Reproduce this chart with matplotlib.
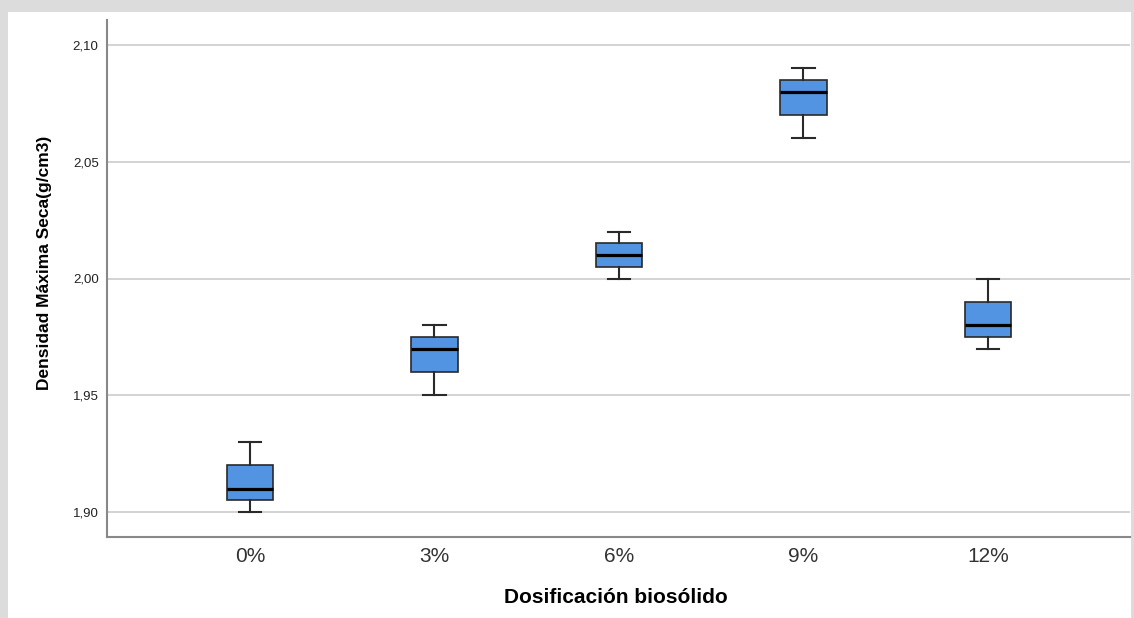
import matplotlib.pyplot as plt
from matplotlib.patches import Rectangle
from matplotlib.ticker import FuncFormatter

plt.rcParams['font.family'] = ['Liberation Sans', 'DejaVu Sans']

# datos
dosis = ['0%', '3%', '6%', '9%', '12%']
bigote_inf = [1.900, 1.950, 2.000, 2.060, 1.970]
q1 = [1.905, 1.960, 2.005, 2.070, 1.975]
mediana = [1.910, 1.970, 2.010, 2.080, 1.980]
q3 = [1.920, 1.975, 2.015, 2.085, 1.990]
bigote_sup = [1.930, 1.980, 2.020, 2.090, 2.000]
yticks = [1.90, 1.95, 2.00, 2.05, 2.10]


def coma(v, pos):
    return ('%.2f' % v).replace('.', ',')


stats = []
for i in range(len(dosis)):
    stats.append({'label': dosis[i], 'whislo': bigote_inf[i], 'q1': q1[i],
                  'med': mediana[i], 'q3': q3[i], 'whishi': bigote_sup[i],
                  'fliers': []})

fig = plt.figure(figsize=(11.34, 6.18), dpi=100, facecolor='#dcdcdc')
# marco blanco con sombra gris
fig.patches.append(Rectangle((8 / 1134, 0), 1123 / 1134, 606 / 618,
                             transform=fig.transFigure, facecolor='white',
                             edgecolor='none', zorder=-10))

ax = fig.add_axes([107 / 1134, 81 / 618, 1023 / 1134, 517 / 618])
ax.set_facecolor('white')

ax.bxp(stats, positions=range(len(dosis)), widths=0.25, patch_artist=True,
       showfliers=False, capwidths=0.12,
       boxprops=dict(facecolor='#5294e2', edgecolor='#2a2a2a', linewidth=1.2),
       medianprops=dict(color='black', linewidth=2.3),
       whiskerprops=dict(color='#2a2a2a', linewidth=1.5),
       capprops=dict(color='#2a2a2a', linewidth=1.5))

ax.set_xlim(-0.775, 4.77)
ax.set_ylim(1.8893, 2.1107)
ax.set_yticks(yticks)
ax.yaxis.set_major_formatter(FuncFormatter(coma))
ax.grid(axis='y', color='#cccccc', linewidth=1.2)
ax.set_axisbelow(True)

for s in ['top', 'right']:
    ax.spines[s].set_visible(False)
for s in ['left', 'bottom']:
    ax.spines[s].set_color('#888888')
    ax.spines[s].set_linewidth(1.5)

ax.tick_params(axis='y', length=0, pad=6, labelsize=9.5, labelcolor='#222222')
ax.tick_params(axis='x', length=0, pad=7, labelsize=15, labelcolor='#333333')

ax.set_xlabel('Dosificación biosólido', fontsize=15, fontweight='bold')
ax.set_ylabel('Densidad Máxima Seca(g/cm3)', fontsize=12.5, fontweight='bold')
ax.xaxis.set_label_coords(0.497, -0.098)
ax.yaxis.set_label_coords(-0.054, 0.53)

fig.savefig('out.png', dpi=100, facecolor=fig.get_facecolor())
